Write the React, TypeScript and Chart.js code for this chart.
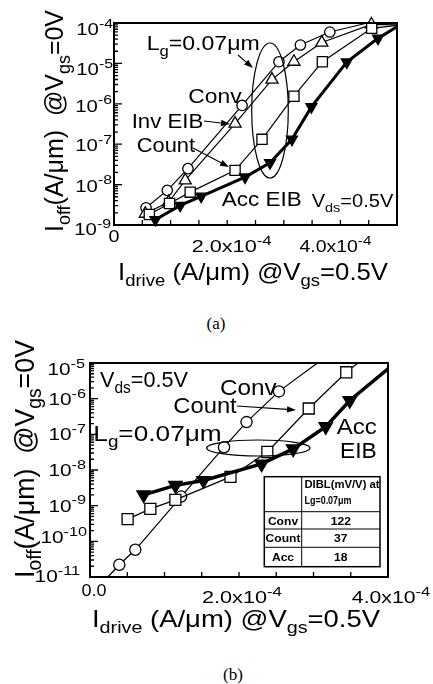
import React, { useEffect, useRef } from 'react';
import { Chart, registerables } from 'chart.js';
Chart.register(...registerables);

const FONT = '"Liberation Sans", Arial, Helvetica, sans-serif';

// ================= Panel (a) data =================
const aConvX = [0.566e-4, 0.941e-4, 1.306e-4, 2.263e-4, 2.915e-4, 3.293e-4, 3.813e-4];
const aConvY = [2.67e-9, 7.2e-9, 2.48e-8, 9.1e-7, 1.1e-5, 2.85e-5, 5.98e-5];
const aConvEndX = [4.48e-4];
const aConvEndY = [1.0e-4];

const aInvX = [0.553e-4, 0.964e-4, 1.258e-4, 2.139e-4, 2.791e-4, 3.179e-4, 3.672e-4, 4.548e-4];
const aInvY = [1.9e-9, 3.68e-9, 1.27e-8, 3.24e-7, 3.96e-6, 1.1e-5, 3.28e-5, 9.2e-5];
const aInvEndX = [5.0e-4];
const aInvEndY = [9.0e-5];

const aCountX = [0.624e-4, 0.981e-4, 1.346e-4, 2.139e-4, 2.615e-4, 3.179e-4, 3.681e-4, 4.553e-4];
const aCountY = [1.82e-9, 3.41e-9, 6.5e-9, 2.25e-8, 1.32e-7, 1.54e-6, 1.1e-5, 7.4e-5];
const aCountEndX = [5.0e-4];
const aCountEndY = [8.7e-5];

const aAccX = [0.73e-4, 1.17e-4, 1.54e-4, 2.315e-4, 2.756e-4, 3.144e-4, 3.487e-4, 4.113e-4, 4.664e-4];
const aAccY = [1.35e-9, 3.05e-9, 5.1e-9, 1.53e-8, 3.45e-8, 1.32e-7, 8.4e-7, 1.08e-5, 4.17e-5];
const aAccEndX = [5.0e-4];
const aAccEndY = [8.1e-5];

const aXMax = 5e-4;
const aYMin = 1e-9;
const aYMax = 1e-4;
const aXTicks = [0.5e-4, 1e-4, 1.5e-4, 2e-4, 2.5e-4, 3e-4, 3.5e-4, 4e-4, 4.5e-4];
const aDecades = [-9, -8, -7, -6, -5, -4];
const aXLabelValues = [0, 2e-4, 4e-4];
const aXLabelTexts = ['0', '2.0x10^{-4}', '4.0x10^{-4}'];

// ================= Panel (b) data =================
const bConvStartX = [0.24e-4];
const bConvStartY = [1.0e-11];
const bConvX = [0.393e-4, 0.608e-4, 1.223e-4, 1.799e-4, 2.101e-4, 2.536e-4];
const bConvY = [2.2e-11, 5.8e-11, 1.8e-9, 4.35e-8, 2.2e-7, 1.6e-6];
const bConvEndX = [3.053e-4];
const bConvEndY = [1.0e-5];

const bCountX = [0.505e-4, 0.81e-4, 1.146e-4, 1.886e-4, 2.38e-4, 2.936e-4, 3.44e-4];
const bCountY = [4.19e-10, 8.1e-10, 1.45e-9, 6.4e-9, 3.2e-8, 5.3e-7, 5.5e-6];
const bCountEndX = [3.595e-4];
const bCountEndY = [1.0e-5];

const bAccX = [0.72e-4, 1.146e-4, 1.523e-4, 2.303e-4, 2.727e-4, 3.164e-4, 3.487e-4];
const bAccY = [2.01e-9, 3.7e-9, 5.1e-9, 1.48e-8, 3.9e-8, 1.64e-7, 8.9e-7];
const bAccEndX = [4.0e-4];
const bAccEndY = [6.8e-6];

const bXMax = 4e-4;
const bYMin = 1e-11;
const bYMax = 1e-5;
const bXTicks = [0.5e-4, 1e-4, 1.5e-4, 2e-4, 2.5e-4, 3e-4, 3.5e-4];
const bDecades = [-11, -10, -9, -8, -7, -6, -5];
const bXLabelValues = [0, 2e-4, 4e-4];
const bXLabelTexts = ['0.0', '2.0x10^{-4}', '4.0x10^{-4}'];

const tableHeader = ['DIBL(mV/V) at', 'Lg=0.07μm'];
const tableRows = ['Conv', 'Count', 'Acc'];
const tableDIBL = ['122', '37', '18'];

// ================= helpers =================
type Seg = { t: string; k: number };
function parseRich(s: string): Seg[] {
  const segs: Seg[] = [];
  let buf = '';
  let i = 0;
  while (i < s.length) {
    const c = s[i];
    if ((c === '_' || c === '^') && s[i + 1] === '{') {
      if (buf) { segs.push({ t: buf, k: 0 }); buf = ''; }
      const end = s.indexOf('}', i + 2);
      segs.push({ t: s.slice(i + 2, end), k: c === '_' ? 1 : 2 });
      i = end + 1;
    } else { buf += c; i++; }
  }
  if (buf) segs.push({ t: buf, k: 0 });
  return segs;
}

interface TOpt { size: number; w?: number; sx?: number; align?: string; bold?: boolean; family?: string; ss?: number }

function drawRich(ctx: CanvasRenderingContext2D, s: string, x: number, y: number, o: TOpt) {
  const segs = parseRich(s);
  const fam = o.family || FONT;
  const wt = o.bold ? 'bold ' : '';
  const ss = o.ss ?? 0.72;
  const fontFor = (k: number) => `${wt}${k ? (o.size * ss).toFixed(1) : o.size}px ${fam}`;
  let total = 0;
  const widths = segs.map((sg) => { ctx.font = fontFor(sg.k); const w = ctx.measureText(sg.t).width; total += w; return w; });
  const sx = o.w ? o.w / total : (o.sx ?? 1);
  const W = total * sx;
  const x0 = o.align === 'center' ? x - W / 2 : o.align === 'right' ? x - W : x;
  ctx.save();
  ctx.translate(x0, y);
  ctx.scale(sx, 1);
  ctx.textAlign = 'left';
  ctx.textBaseline = 'alphabetic';
  let cx = 0;
  segs.forEach((sg, i) => {
    ctx.font = fontFor(sg.k);
    const dy = sg.k === 1 ? o.size * 0.27 : sg.k === 2 ? -o.size * 0.45 : 0;
    ctx.fillText(sg.t, cx, dy);
    cx += widths[i];
  });
  ctx.restore();
}

function drawArrow(ctx: CanvasRenderingContext2D, a: number[]) {
  const [x1, y1, x2, y2] = a;
  const head = 9, hw = 3.2;
  const ang = Math.atan2(y2 - y1, x2 - x1);
  const bx = x2 - head * Math.cos(ang), by = y2 - head * Math.sin(ang);
  ctx.beginPath(); ctx.moveTo(x1, y1); ctx.lineTo(bx, by); ctx.stroke();
  ctx.beginPath();
  ctx.moveTo(x2, y2);
  ctx.lineTo(bx + hw * Math.sin(ang), by - hw * Math.cos(ang));
  ctx.lineTo(bx - hw * Math.sin(ang), by + hw * Math.cos(ang));
  ctx.closePath(); ctx.fill();
}

function pts(sx: number[], sy: number[], xs: number[], ys: number[], ex: number[], ey: number[]) {
  return [
    ...sx.map((x, i) => ({ x, y: sy[i], m: 0 })),
    ...xs.map((x, i) => ({ x, y: ys[i], m: 1 })),
    ...ex.map((x, i) => ({ x, y: ey[i], m: 0 })),
  ];
}

function ds(data: any[], style: string, r: number, lw: number, filled: boolean) {
  const rad = (c: any) => (c.raw && c.raw.m ? r : 0);
  return {
    data,
    borderColor: '#000',
    borderWidth: lw,
    backgroundColor: filled ? '#000' : '#fff',
    pointBackgroundColor: filled ? '#000' : '#fff',
    pointBorderColor: '#000',
    pointBorderWidth: 1.3,
    pointStyle: style === 'down' ? 'triangle' : style,
    pointRotation: style === 'down' ? 180 : 0,
    pointRadius: rad,
    pointHoverRadius: rad,
    tension: 0,
    fill: false,
    showLine: true,
    clip: 10,
  };
}

interface Deco {
  decades: number[];
  xTicks: number[];
  yLabelDy: number[];
  yLabelRight: number[];
  yLabelSize: number;
  yLabelSx: number;
  xLabelValues: number[];
  xLabelTexts: string[];
  xLabelDx: number[];
  xLabelBase: number[];
  xLabelW: number[];
  xTitle: { s: string; x: number; y: number; size: number; w: number };
  yTitle: { s: string; x: number; y: number; size: number; w: number };
  texts: { s: string; x: number; y: number; size: number; w: number; align?: string }[];
  arrows: number[][];
  ellipses: number[][];
  table?: boolean;
}

function decoPlugin(cfg: Deco) {
  return {
    id: 'deco',
    afterDraw(chart: any) {
      const ctx: CanvasRenderingContext2D = chart.ctx;
      const ca = chart.chartArea;
      const xs = chart.scales.x;
      const ys = chart.scales.y;
      ctx.save();
      ctx.fillStyle = '#000';
      ctx.strokeStyle = '#000';
      // frame
      ctx.lineWidth = 2;
      ctx.strokeRect(ca.left, ca.top, ca.right - ca.left, ca.bottom - ca.top);
      // ticks
      ctx.lineWidth = 1.3;
      ctx.beginPath();
      cfg.decades.forEach((d, i) => {
        const y = ys.getPixelForValue(Math.pow(10, d));
        ctx.moveTo(ca.left, y); ctx.lineTo(ca.left + 8, y);
        if (i < cfg.decades.length - 1) {
          for (let m = 2; m <= 9; m++) {
            const yy = ys.getPixelForValue(m * Math.pow(10, d));
            ctx.moveTo(ca.left, yy); ctx.lineTo(ca.left + 4, yy);
          }
        }
      });
      cfg.xTicks.forEach((v) => {
        const x = xs.getPixelForValue(v);
        ctx.moveTo(x, ca.bottom); ctx.lineTo(x, ca.bottom - 5);
      });
      ctx.stroke();
      // y tick labels
      cfg.decades.forEach((d, i) => {
        const y = ys.getPixelForValue(Math.pow(10, d));
        drawRich(ctx, `10^{${d}}`, cfg.yLabelRight[i], y + cfg.yLabelDy[i], { size: cfg.yLabelSize, sx: cfg.yLabelSx, align: 'right', ss: 0.78 });
      });
      // x tick labels
      cfg.xLabelValues.forEach((v, i) => {
        const x = xs.getPixelForValue(v) + cfg.xLabelDx[i];
        drawRich(ctx, cfg.xLabelTexts[i], x, cfg.xLabelBase[i], { size: 16, w: cfg.xLabelW[i], align: 'center', ss: 0.78 });
      });
      // axis titles
      const xt = cfg.xTitle;
      drawRich(ctx, xt.s, xt.x, xt.y, { size: xt.size, w: xt.w, align: 'center' });
      const yt = cfg.yTitle;
      ctx.save();
      ctx.translate(yt.x, yt.y);
      ctx.rotate(-Math.PI / 2);
      drawRich(ctx, yt.s, 0, 0, { size: yt.size, w: yt.w, align: 'center' });
      ctx.restore();
      // annotations
      ctx.lineWidth = 1.2;
      cfg.ellipses.forEach(([cx, cy, rx, ry]) => {
        ctx.beginPath(); ctx.ellipse(cx, cy, rx, ry, 0, 0, Math.PI * 2); ctx.stroke();
      });
      ctx.lineWidth = 1.1;
      cfg.arrows.forEach((a) => drawArrow(ctx, a));
      cfg.texts.forEach((t) => drawRich(ctx, t.s, t.x, t.y, { size: t.size, w: t.w, align: t.align || 'left' }));
      if (cfg.table) {
        const L = 264.3, M = 301.7, R = 380, T = 146.7, B = 236.7;
        const rows = [T, 181.7, 199, 217.3, B];
        ctx.fillStyle = '#fff';
        ctx.fillRect(L, T, R - L, B - T);
        ctx.fillStyle = '#000';
        ctx.lineWidth = 1.5;
        ctx.strokeRect(L, T, R - L, B - T);
        ctx.lineWidth = 1;
        ctx.beginPath();
        ctx.moveTo(M, T); ctx.lineTo(M, B);
        for (let i = 1; i < 4; i++) { ctx.moveTo(L, rows[i]); ctx.lineTo(R, rows[i]); }
        ctx.stroke();
        drawRich(ctx, tableHeader[0], 304.5, 158.3, { size: 10.5, w: 75, bold: true });
        drawRich(ctx, tableHeader[1], 304.5, 174, { size: 10.5, w: 47, bold: true });
        tableRows.forEach((name, i) => {
          const base = (rows[i + 1] + rows[i + 2]) / 2 + 4.2;
          drawRich(ctx, name, (L + M) / 2, base, { size: 11, sx: 1.1, bold: true, align: 'center' });
          drawRich(ctx, tableDIBL[i], (M + R) / 2, base, { size: 11, sx: 1.1, bold: true, align: 'center' });
        });
      }
      ctx.restore();
    },
  };
}

function makeChart(canvas: HTMLCanvasElement, datasets: any[], xMax: number, yMin: number, yMax: number, pad: any, deco: Deco) {
  return new Chart(canvas, {
    type: 'line',
    data: { datasets },
    options: {
      animation: false,
      responsive: false,
      devicePixelRatio: 1,
      events: [],
      layout: { padding: pad },
      plugins: { legend: { display: false }, tooltip: { enabled: false } },
      scales: {
        x: { type: 'linear', min: 0, max: xMax, display: false },
        y: { type: 'logarithmic', min: yMin, max: yMax, display: false },
      },
    } as any,
    plugins: [decoPlugin(deco)],
  } as any);
}

const decoA: Deco = {
  decades: aDecades,
  xTicks: aXTicks,
  yLabelDy: [10, 7, 7, 7.7, 12, 12],
  yLabelRight: [111, 112, 112, 112, 113, 113],
  yLabelSize: 16,
  yLabelSx: 1.27,
  xLabelValues: aXLabelValues,
  xLabelTexts: aXLabelTexts,
  xLabelDx: [0, 4.5, -5],
  xLabelBase: [241.7, 251.7, 251.7],
  xLabelW: [11, 80, 72],
  xTitle: { s: 'I_{drive} (A/μm) @V_{gs}=0.5V', x: 253, y: 280, size: 24, w: 270 },
  yTitle: { s: 'I_{off}(A/μm)  @V_{gs}=0V', x: 63, y: 121, size: 25, w: 222 },
  texts: [
    { s: 'L_{g}=0.07μm', x: 146.7, y: 50, size: 21, w: 113 },
    { s: 'Conv', x: 188.3, y: 103.3, size: 20, w: 53.3 },
    { s: 'Inv EIB', x: 131.7, y: 128.3, size: 20, w: 71.6 },
    { s: 'Count', x: 136.7, y: 151.7, size: 20, w: 58.3 },
    { s: 'Acc EIB', x: 221.7, y: 206, size: 20, w: 80 },
    { s: 'V_{ds}=0.5V', x: 311.7, y: 207, size: 18, w: 81.6 },
  ],
  arrows: [
    [238, 55, 253, 68],
    [204, 121, 230, 124],
    [193, 148, 229, 167],
  ],
  ellipses: [[270, 110.5, 18.3, 67.5]],
};

const decoB: Deco = {
  decades: bDecades,
  xTicks: bXTicks,
  yLabelDy: [4.7, 2, 6, 5.7, 5.6, 6.3, 12],
  yLabelRight: [80, 87, 86, 86, 86, 86, 85],
  yLabelSize: 16,
  yLabelSx: 1.3,
  xLabelValues: bXLabelValues,
  xLabelTexts: bXLabelTexts,
  xLabelDx: [4, 3, 3],
  xLabelBase: [266, 273, 273],
  xLabelW: [25, 80, 78.3],
  xTitle: { s: 'I_{drive} (A/μm) @V_{gs}=0.5V', x: 236, y: 296.7, size: 24, w: 288 },
  yTitle: { s: 'I_{off}(A/μm)  @V_{gs}=0V', x: 34, y: 129, size: 27, w: 238 },
  texts: [
    { s: 'V_{ds}=0.5V', x: 100, y: 56.7, size: 22, w: 88 },
    { s: 'Conv', x: 220, y: 65, size: 22, w: 56.7 },
    { s: 'Count', x: 173.3, y: 83.3, size: 22, w: 63.4 },
    { s: 'L_{g}=0.07μm', x: 93.3, y: 111, size: 22, w: 128.4 },
    { s: 'Acc', x: 336.7, y: 104, size: 22, w: 40 },
    { s: 'EIB', x: 340, y: 128.3, size: 22, w: 36.7 },
  ],
  arrows: [[237, 76, 296, 80]],
  ellipses: [[258.3, 118, 51.7, 8]],
  table: true,
};

export default function App() {
  const refA = useRef<HTMLCanvasElement>(null);
  const refB = useRef<HTMLCanvasElement>(null);

  useEffect(() => {
    const dsA = [
      ds(pts([], [], aAccX, aAccY, aAccEndX, aAccEndY), 'down', 6.3, 3, true),
      ds(pts([], [], aCountX, aCountY, aCountEndX, aCountEndY), 'rect', 7.2, 1.2, false),
      ds(pts([], [], aInvX, aInvY, aInvEndX, aInvEndY), 'triangle', 7, 1.2, false),
      ds(pts([], [], aConvX, aConvY, aConvEndX, aConvEndY), 'circle', 5.2, 1.2, false),
    ];
    const dsB = [
      ds(pts([], [], bAccX, bAccY, bAccEndX, bAccEndY), 'down', 7.8, 3.5, true),
      ds(pts([], [], bCountX, bCountY, bCountEndX, bCountEndY), 'rect', 7.8, 1.2, false),
      ds(pts(bConvStartX, bConvStartY, bConvX, bConvY, bConvEndX, bConvEndY), 'circle', 5.6, 1.2, false),
    ];
    const cA = makeChart(refA.current!, dsA, aXMax, aYMin, aYMax, { left: 114, right: 36, top: 23, bottom: 75 }, decoA);
    const cB = makeChart(refB.current!, dsB, bXMax, bYMin, bYMax, { left: 90, right: 45, top: 33, bottom: 63 }, decoB);
    return () => { cA.destroy(); cB.destroy(); };
  }, []);

  const cap: React.CSSProperties = {
    position: 'absolute', width: 60, textAlign: 'center',
    fontFamily: '"Liberation Serif", "Times New Roman", serif', fontSize: 17, color: '#000', lineHeight: '20px',
  };

  return (
    <div style={{ position: 'absolute', left: 0, top: 0, width: 433, height: 684, background: '#fff', overflow: 'hidden' }}>
      <canvas ref={refA} width={433} height={300} style={{ position: 'absolute', left: 0, top: 0, width: 433, height: 300 }} />
      <div style={{ ...cap, left: 186, top: 314 }}>(a)</div>
      <canvas ref={refB} width={433} height={310} style={{ position: 'absolute', left: 0, top: 330, width: 433, height: 310 }} />
      <div style={{ ...cap, left: 203, top: 665 }}>(b)</div>
    </div>
  );
}
